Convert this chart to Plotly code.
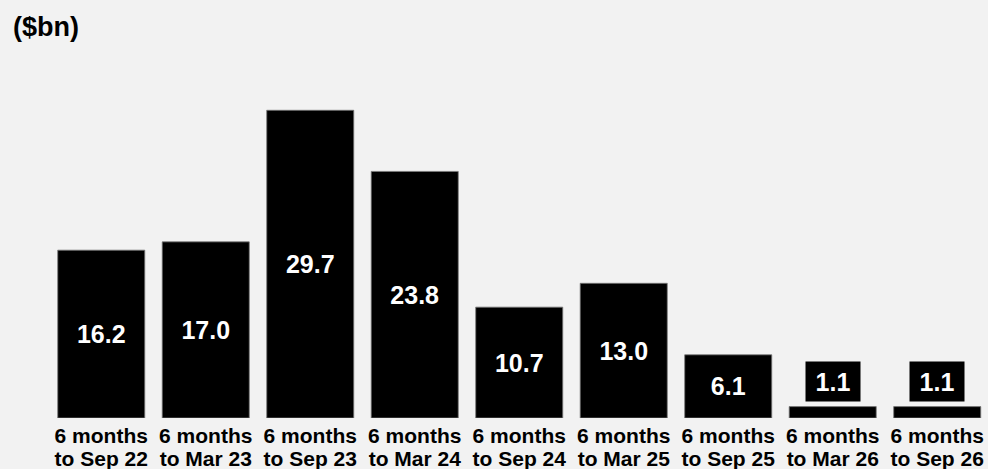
import plotly.graph_objects as go

period_length = "6 months"
period_ends = ["to Sep 22", "to Mar 23", "to Sep 23", "to Mar 24", "to Sep 24",
               "to Mar 25", "to Sep 25", "to Mar 26", "to Sep 26"]
values = [16.2, 17.0, 29.7, 23.8, 10.7, 13.0, 6.1, 1.1, 1.1]
unit_label = "($bn)"

FONT = "Liberation Sans, Arial, Helvetica, sans-serif"
BG = "#f2f2f2"
XRANGE = [-0.5, 8.486]

inside_text = [f"<b>{v:.1f}</b>" if v >= 3 else "" for v in values]

fig = go.Figure()
fig.add_trace(go.Bar(
    x=period_ends, y=values,
    marker=dict(color="black", line=dict(color="#777777", width=0.8)),
    text=inside_text, textposition="inside", insidetextanchor="middle",
    textangle=0,
    textfont=dict(color="white", size=25, family=FONT),
    hoverinfo="skip",
))
# invisible helper trace so the second (label) axis is drawn
fig.add_trace(go.Scatter(x=list(range(len(period_ends))), y=[0] * len(period_ends),
                         xaxis="x2", mode="markers", marker=dict(opacity=0),
                         hoverinfo="skip", showlegend=False))

annotations = []
for c, v in zip(period_ends, values):
    if v < 3:
        annotations.append(dict(
            x=c, y=v, xref="x", yref="y", text=f"<b>{v:.1f}</b>",
            showarrow=False, yanchor="bottom", yshift=5,
            bgcolor="black", font=dict(color="white", size=25, family=FONT),
            width=54, height=39, borderpad=0,
        ))

fig.update_layout(
    width=988, height=469,
    paper_bgcolor=BG, plot_bgcolor=BG,
    margin=dict(l=49, r=0, t=45, b=51),
    bargap=0.167,
    showlegend=False,
    title=dict(text=f"<b>{unit_label}</b>", x=13/988, xanchor="left", xref="container",
               y=1-27/469, yanchor="middle", yref="container",
               font=dict(size=27, color="black", family=FONT)),
    annotations=annotations,
    font=dict(family=FONT, color="black"),
    xaxis=dict(
        type="category", range=XRANGE,
        tickmode="array", tickvals=period_ends,
        ticktext=[f"<b>{period_length}</b>" for _ in period_ends],
        tickfont=dict(size=21, color="black", family=FONT),
        ticklabelstandoff=3,
        showgrid=False, showline=False, zeroline=False, ticks="", automargin=False,
    ),
    xaxis2=dict(
        overlaying="x", anchor="y", side="bottom", type="linear", range=XRANGE,
        tickmode="array", tickvals=list(range(len(period_ends))),
        ticktext=[f"<b>{e}</b>" for e in period_ends],
        tickfont=dict(size=21, color="black", family=FONT),
        ticklabelstandoff=26,
        showgrid=False, showline=False, zeroline=False, ticks="", automargin=False,
    ),
    yaxis=dict(range=[0, 36], visible=False, showgrid=False, zeroline=False, automargin=False),
)

fig.write_html("out.html", config={"displayModeBar": False},
               post_script="document.body.style.margin='0';document.body.style.overflow='hidden';")
